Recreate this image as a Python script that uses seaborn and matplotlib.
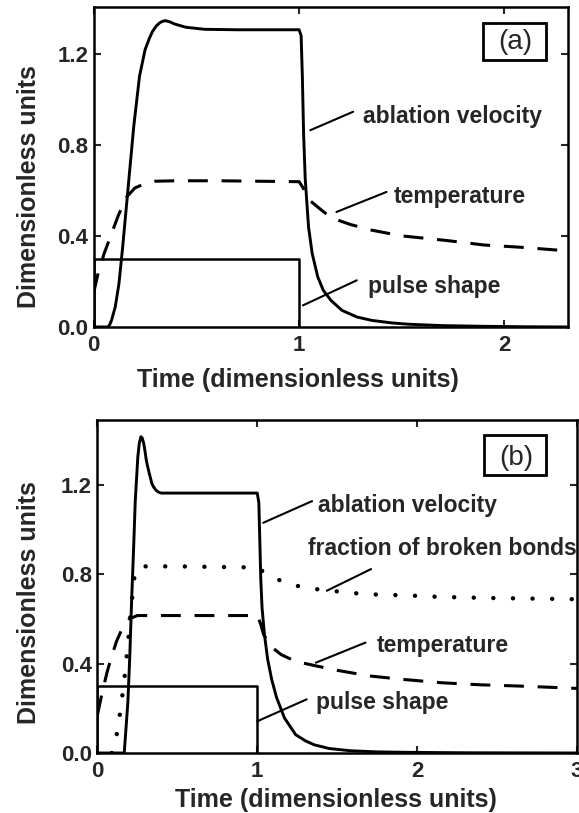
import seaborn as sns
import matplotlib.pyplot as plt
from matplotlib.patches import Rectangle

# ---- panel (a) data ----
a_pulse_t = [0.0, 0.0, 1.0, 1.0]
a_pulse_v = [0.0, 0.3, 0.3, 0.0]

a_vel_t = [0.0, 0.069, 0.078, 0.087, 0.105, 0.123, 0.141, 0.168, 0.195, 0.223, 0.25, 0.27,
           0.286, 0.305, 0.322, 0.335, 0.349, 0.37, 0.395, 0.449, 0.54, 0.70, 0.85, 1.0,
           1.01, 1.016, 1.022, 1.03, 1.046, 1.064, 1.091, 1.118, 1.155, 1.209, 1.281, 1.354,
           1.45, 1.535, 1.7, 1.9, 2.1, 2.31]
a_vel_v = [0.0, 0.0, 0.01, 0.03, 0.088, 0.19, 0.35, 0.615, 0.88, 1.10, 1.217, 1.265,
           1.297, 1.322, 1.336, 1.342, 1.345, 1.34, 1.33, 1.316, 1.307, 1.305, 1.305, 1.305,
           1.28, 1.10, 0.85, 0.65, 0.44, 0.322, 0.22, 0.161, 0.117, 0.073, 0.044, 0.029,
           0.018, 0.012, 0.006, 0.003, 0.001, 0.0]

a_temp_t = [0.0, 0.02, 0.05, 0.087, 0.12, 0.16, 0.2, 0.25, 0.3, 0.4, 0.6, 0.8, 1.0, 1.02,
            1.046, 1.1, 1.155, 1.25, 1.354, 1.5, 1.716, 1.9, 2.08, 2.31]
a_temp_v = [0.15, 0.23, 0.32, 0.41, 0.49, 0.57, 0.61, 0.63, 0.64, 0.642, 0.642, 0.64, 0.638,
            0.61, 0.56, 0.52, 0.48, 0.45, 0.425, 0.40, 0.38, 0.36, 0.35, 0.334]

# ---- panel (b) data ----
b_pulse_t = [0.0, 0.0, 1.0, 1.0]
b_pulse_v = [0.0, 0.3, 0.3, 0.0]

b_vel_t = [0.0, 0.168, 0.191, 0.203, 0.214, 0.226, 0.237, 0.253, 0.262, 0.272, 0.28, 0.29,
           0.298, 0.306, 0.315, 0.325, 0.341, 0.352, 0.364, 0.38, 0.399, 0.6, 0.8, 1.0,
           1.01, 1.016, 1.022, 1.03, 1.045, 1.065, 1.09, 1.12, 1.17, 1.24, 1.3, 1.355, 1.45,
           1.585, 1.75, 1.93, 2.3, 3.0]
b_vel_v = [0.0, 0.0, 0.232, 0.44, 0.68, 0.905, 1.13, 1.325, 1.385, 1.415, 1.41, 1.385,
           1.35, 1.31, 1.28, 1.25, 1.205, 1.19, 1.178, 1.168, 1.163, 1.163, 1.163, 1.163,
           1.12, 0.95, 0.78, 0.65, 0.53, 0.42, 0.33, 0.25, 0.157, 0.082, 0.055, 0.037, 0.02,
           0.01, 0.005, 0.003, 0.001, 0.0]

b_temp_t = [0.0, 0.03, 0.06, 0.088, 0.12, 0.157, 0.2, 0.25, 0.3, 0.5, 0.8, 1.0, 1.02, 1.04,
            1.08, 1.15, 1.24, 1.366, 1.5, 1.70, 1.9, 2.16, 2.4, 2.62, 2.8, 3.0]
b_temp_v = [0.17, 0.27, 0.36, 0.43, 0.50, 0.56, 0.60, 0.615, 0.615, 0.615, 0.615, 0.615, 0.58,
            0.53, 0.48, 0.44, 0.41, 0.39, 0.37, 0.345, 0.33, 0.314, 0.305, 0.30, 0.295, 0.289]

b_bond_t = [0.09, 0.11, 0.13, 0.15, 0.17, 0.19, 0.21, 0.23, 0.25, 0.3, 0.5, 0.8, 1.0, 1.04,
            1.083, 1.15, 1.208, 1.33, 1.45, 1.575, 1.7, 1.94, 2.16, 2.5, 2.92, 3.0]
b_bond_v = [0.0, 0.04, 0.12, 0.22, 0.34, 0.48, 0.64, 0.78, 0.83, 0.835, 0.835, 0.832, 0.83,
            0.81, 0.79, 0.77, 0.754, 0.736, 0.727, 0.717, 0.71, 0.705, 0.698, 0.693, 0.689, 0.688]

# labels with leader lines: (text, text x, text y, line start, line end)
a_notes = [("ablation velocity", 1.309, 0.923, (1.055, 0.864), (1.263, 0.945)),
           ("temperature", 1.462, 0.571, (1.182, 0.505), (1.426, 0.593)),
           ("pulse shape", 1.336, 0.179, (1.019, 0.095), (1.281, 0.205))]
b_notes = [("ablation velocity", 1.378, 1.108, (1.037, 1.030), (1.343, 1.127)),
           ("fraction of broken bonds", 1.32, 0.913, (1.435, 0.726), (1.712, 0.823)),
           ("temperature", 1.747, 0.479, (1.366, 0.404), (1.677, 0.494)),
           ("pulse shape", 1.366, 0.225, (1.0, 0.142), (1.309, 0.24))]

sns.set_style("ticks")
plt.rcParams['font.family'] = ['Liberation Sans', 'DejaVu Sans']
plt.rcParams['font.weight'] = 'bold'
plt.rcParams['axes.labelweight'] = 'bold'

fig = plt.figure(figsize=(5.79, 8.13), dpi=100)
ax1 = fig.add_axes([0.1618, 0.5978, 0.8187, 0.3936])
ax2 = fig.add_axes([0.1682, 0.0738, 0.8283, 0.4096])


def draw(ax, t, v, lw=2.0, dashes=None, dotted=False):
    sns.lineplot(x=t, y=v, ax=ax, color='black', lw=lw, sort=False, estimator=None)
    line = ax.lines[-1]
    if dashes is not None:
        line.set_dashes(dashes)
    if dotted:
        line.set_dashes((0.01, 4.4))
        line.set_dash_capstyle('round')


# panel (a)
draw(ax1, a_pulse_t, a_pulse_v, lw=1.8)
draw(ax1, a_vel_t, a_vel_v, lw=2.1)
draw(ax1, a_temp_t, a_temp_v, lw=2.2, dashes=(6.5, 4.5))

# panel (b)
draw(ax2, b_pulse_t, b_pulse_v, lw=1.8)
draw(ax2, b_vel_t, b_vel_v, lw=2.1)
draw(ax2, b_temp_t, b_temp_v, lw=2.2, dashes=(6.5, 4.5))
draw(ax2, b_bond_t, b_bond_v, lw=3.2, dotted=True)

for ax, notes in [(ax1, a_notes), (ax2, b_notes)]:
    for txt, tx, ty, p0, p1 in notes:
        ax.annotate('', xy=p0, xytext=p1,
                    arrowprops=dict(arrowstyle='-', lw=1.5, color='black',
                                    shrinkA=0, shrinkB=0))
        ax.text(tx, ty, txt, fontsize=16.5, fontweight='bold', ha='left', va='center',
                clip_on=False)

ax1.set_xlim(0, 2.308)
ax1.set_ylim(0, 1.405)
ax1.set_xticks([0, 1, 2])
ax1.set_yticks([0.0, 0.4, 0.8, 1.2])

ax2.set_xlim(0, 2.98)
ax2.set_ylim(0, 1.49)
ax2.set_xticks([0, 1, 2, 3])
ax2.set_yticks([0.0, 0.4, 0.8, 1.2])

for ax in (ax1, ax2):
    ax.yaxis.set_major_formatter(plt.FormatStrFormatter('%.1f'))
    ax.xaxis.set_major_formatter(plt.FormatStrFormatter('%d'))
    ax.tick_params(direction='in', length=5, width=1.5, top=True, right=True,
                   labelsize=16)
    ax.tick_params(axis='x', pad=6)
    ax.tick_params(axis='y', pad=4)
    for s in ax.spines.values():
        s.set_linewidth(1.8)
        s.set_color('black')
    ax.set_xlabel("Time (dimensionless units)", fontsize=18, fontweight='bold')
    ax.set_ylabel("Dimensionless units", fontsize=18, fontweight='bold')

# the tick label "3" sits on the right edge, as in the source
ax2.xaxis.get_major_ticks()[-1].label1.set_clip_on(False)

ax1.xaxis.set_label_coords(0.43, -0.128)
ax1.yaxis.set_label_coords(-0.112, 0.44)
ax2.xaxis.set_label_coords(0.497, -0.105)
ax2.yaxis.set_label_coords(-0.118, 0.453)

# panel tags in boxes
ax1.add_patch(Rectangle((0.821, 0.835), 0.134, 0.115, transform=ax1.transAxes,
                        fill=False, lw=2, ec='black', clip_on=False))
ax1.text(0.889, 0.89, "(a)", transform=ax1.transAxes, fontsize=20,
         fontweight='normal', ha='center', va='center')
ax2.add_patch(Rectangle((0.806, 0.835), 0.129, 0.12, transform=ax2.transAxes,
                        fill=False, lw=2, ec='black', clip_on=False))
ax2.text(0.873, 0.886, "(b)", transform=ax2.transAxes, fontsize=20,
         fontweight='normal', ha='center', va='center')

fig.savefig("out.png", dpi=100)
